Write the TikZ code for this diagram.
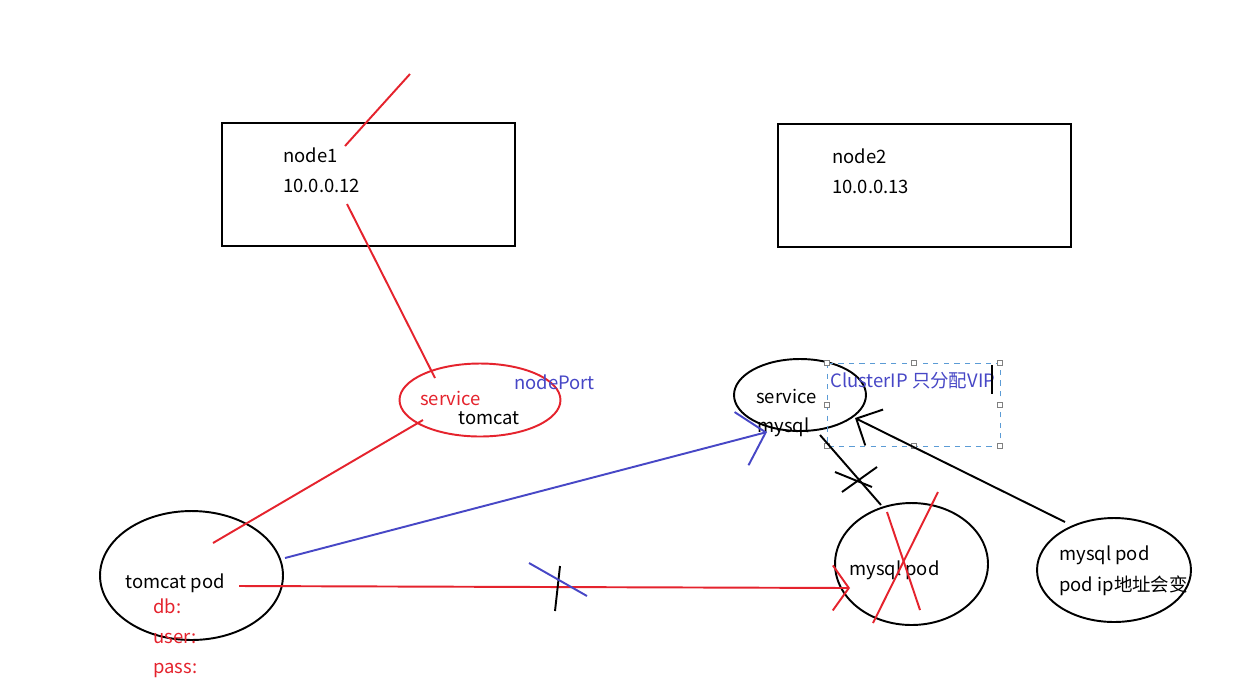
\documentclass[tikz,border=0pt]{standalone}
\usepackage{fontspec}
\setmainfont{Noto Sans CJK SC}
\usetikzlibrary{arrows.meta,shapes.geometric}
\definecolor{marker}{HTML}{E5232D}
\definecolor{pencil}{HTML}{4747C6}
\definecolor{handle}{HTML}{5B9BD5}
\tikzset{
  host/.style={draw, line width=1.4pt, minimum width=5.86cm, minimum height=2.46cm, inner sep=0pt},
  pod/.style={draw, ellipse, line width=1.1pt, inner sep=0pt},
  txt/.style={anchor=base west, inner sep=0pt, font=\fontsize{10.5}{12}\selectfont},
  stroke/.style={line width=1.1pt},
  grip/.style={draw=gray, fill=white, line width=0.3pt, minimum size=0.1cm, inner sep=0pt}
}
\begin{document}
\begin{tikzpicture}[x=0.02cm, y=-0.02cm]
\useasboundingbox[fill=white] (0,0) rectangle (1257,684);
% hosts
\node[host] (node1) at (368.5,184.5) {};
\node[host] (node2) at (924.5,185.5) {};
\node[txt] (n1name) at (283,162) {node1};
\node[txt] (n1ip) at (283,192) {10.0.0.12};
\node[txt] (n2name) at (832,163) {node2};
\node[txt] (n2ip) at (832,193) {10.0.0.13};
% services
\node[pod, draw=marker, minimum width=3.22cm, minimum height=1.46cm] (svcTomcat) at (480,400) {};
\node[txt, text=marker] (svcT1) at (420,405) {service};
\node[txt] (svcT2) at (458,424) {tomcat};
\node[txt, text=pencil] (nport) at (514,389) {nodePort};
\node[pod, minimum width=2.64cm, minimum height=1.44cm] (svcMysql) at (800,395) {};
\node[txt] (svcM1) at (756,403) {service};
\node[txt] (svcM2) at (757,432) {mysql};
% selected text box
\draw[handle, dashed, line width=0.5pt] (827,363) rectangle (1000,446);
\foreach \gx/\gy in {827/363, 913.5/363, 1000/363, 827/404.5, 1000/404.5, 827/446, 913.5/446, 1000/446}
  \node[grip] at (\gx,\gy) {};
\node[txt, text=pencil] (vip) at (830,387) {ClusterIP 只分配VIP};
\draw[line width=0.6pt] (992,365) -- (992,394);
% pods
\node[pod, minimum width=3.66cm, minimum height=2.58cm] (tomcatPod) at (191.5,575.5) {};
\node[txt] (tpName) at (125,588) {tomcat pod};
\node[txt, text=marker] (db) at (153,613) {db:};
\node[txt, text=marker] (user) at (153,643) {user:};
\node[txt, text=marker] (pass) at (153,673) {pass:};
\node[pod, minimum width=3.06cm, minimum height=2.44cm] (mysqlPod) at (911.5,564) {};
\node[txt] (mpName) at (849,575) {mysql pod};
\node[pod, minimum width=3.08cm, minimum height=2.08cm] (mysqlPod2) at (1114,570) {};
\node[txt] (mp2Name) at (1059,560) {mysql pod};
\node[txt] (mp2Ip) at (1059,591) {pod ip地址会变};
% connectors
\coordinate (n1top) at (345,146);
\coordinate (n1out) at (410,74);
\coordinate (n1ip) at (347,204);
\coordinate (stTop) at (435,378);
\coordinate (stLow) at (423,420);
\coordinate (tpIn) at (213,543);
\coordinate (tpBlue) at (285,558);
\coordinate (smTip) at (767,432);
\coordinate (tpRed) at (239,586);
\coordinate (mpTip) at (850,588);
\coordinate (smLow) at (820,435);
\coordinate (mpTop) at (881,505);
\coordinate (mp2Top) at (1065,522);
\coordinate (smRight) at (855,418);
\draw[stroke, marker] (n1top) -- (n1out);
\draw[stroke, marker] (n1ip) -- (stTop);
\draw[stroke, marker] (stLow) -- (tpIn);
\draw[stroke, pencil, -{Straight Barb[length=0.5cm, width=1.1cm]}] (tpBlue) -- (smTip);
\draw[stroke, marker, -{Straight Barb[length=0.32cm, width=0.9cm]}] (tpRed) -- (mpTip);
\draw[stroke] (smLow) -- (mpTop);
\draw[stroke, -{Straight Barb[length=0.4cm, width=0.8cm]}] (mp2Top) -- (smRight);
% crossed out
\draw[stroke] (560,566) -- (555,611);
\draw[stroke, pencil] (529,563) -- (587,596);
\draw[stroke] (835,472) -- (872,487);
\draw[stroke] (842,492) -- (877,467);
\draw[stroke, marker] (873,623) -- (938,492);
\draw[stroke, marker] (887,512) -- (920,610);
\end{tikzpicture}
\end{document}
